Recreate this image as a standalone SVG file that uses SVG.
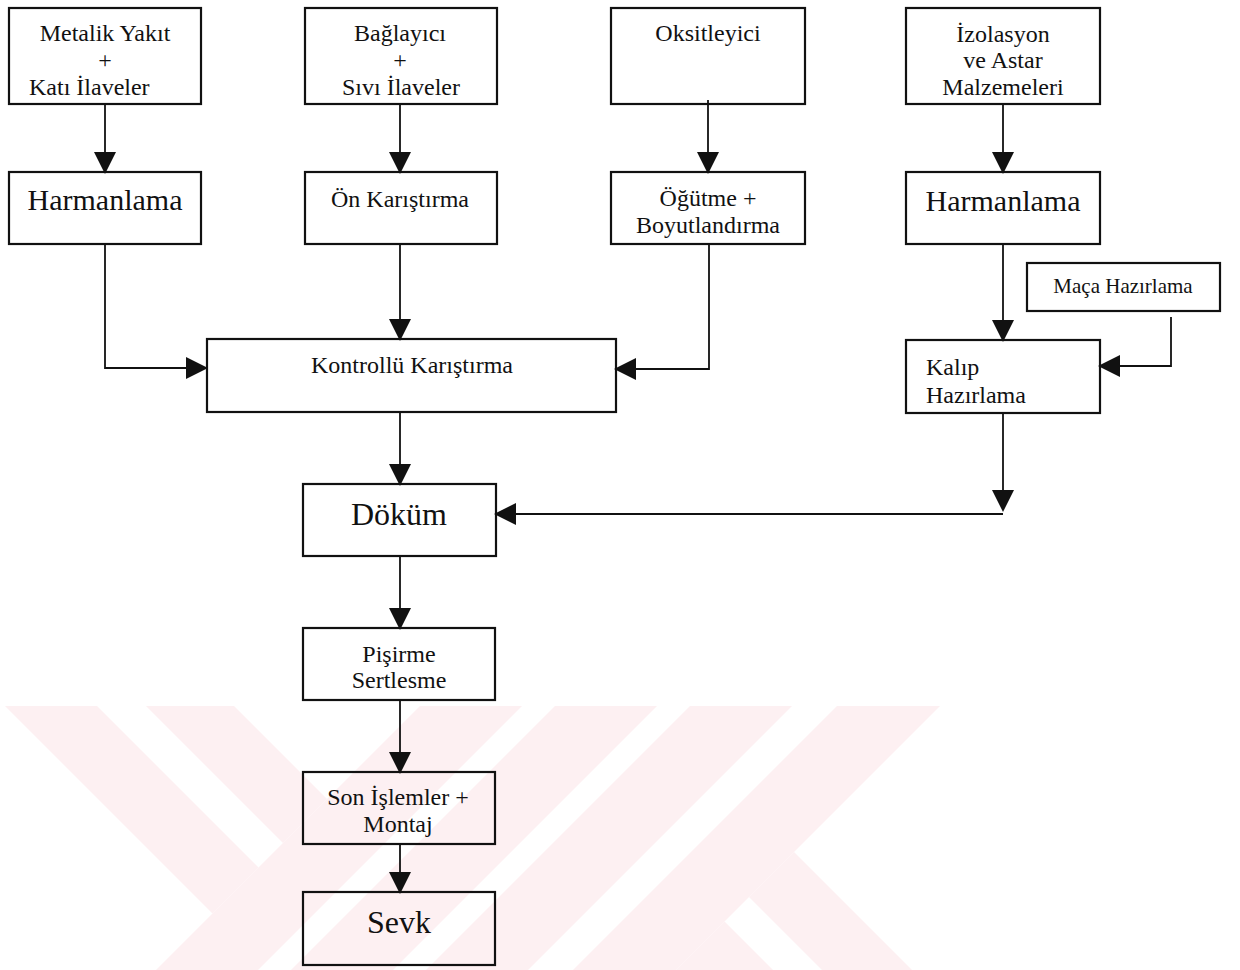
<svg xmlns="http://www.w3.org/2000/svg" width="1240" height="970" viewBox="0 0 1240 970">
<style>
  .box{fill:none;stroke:#111;stroke-width:2.2}
  .t{font-family:"Liberation Serif","Times New Roman",serif;fill:#111;font-size:24px;text-anchor:middle}
  .big{font-size:30px}
  .huge{font-size:32px}
  .sm{font-size:21px}
  .st{text-anchor:start}
  .wm{fill:#fdf0f2}
  .c{fill:none;stroke:#111;stroke-width:1.8}
</style>
<defs>
  <marker id="ah" markerUnits="userSpaceOnUse" markerWidth="22" markerHeight="22" refX="0" refY="10" orient="auto" viewBox="0 0 20 20">
    <path d="M0,0 L20,10 L0,20 Z" fill="#111"/>
  </marker>
</defs>
<rect width="1240" height="970" fill="#fff"/>
<g id="watermark">
  <polygon class="wm" points="5,706 97,706 258.5,867.5 212.5,913.5"/>
  <polygon class="wm" points="146,706 234,706 327,799 283,843"/>
  <polygon class="wm" points="420,706 522,706 258,970 156,970"/>
  <polygon class="wm" points="555,706 657,706 393,970 291,970"/>
  <polygon class="wm" points="690,706 792,706 528,970 426,970"/>
  <polygon class="wm" points="837,706 940,706 676,970 573,970"/>
  <polygon class="wm" points="724.5,921.5 773,970 676,970"/>
  <polygon class="wm" points="794,852 912,970 822,970 749,897"/>
</g>
<g id="connectors">
  <path class="c" d="M105,104 V152" marker-end="url(#ah)"/>
  <path class="c" d="M400,104 V152" marker-end="url(#ah)"/>
  <path class="c" d="M708,100 V152" marker-end="url(#ah)"/>
  <path class="c" d="M1003,104 V152" marker-end="url(#ah)"/>
  <path class="c" d="M105,244 V368 H186" marker-end="url(#ah)"/>
  <path class="c" d="M400,244 V319" marker-end="url(#ah)"/>
  <path class="c" d="M709,244 V369 H636" marker-end="url(#ah)"/>
  <path class="c" d="M1003,244 V320" marker-end="url(#ah)"/>
  <path class="c" d="M1171,317 V366 H1120" marker-end="url(#ah)"/>
  <path class="c" d="M400,412 V464" marker-end="url(#ah)"/>
  <path class="c" d="M1003,413 V490" marker-end="url(#ah)"/>
  <path class="c" d="M1003,514 H516" marker-end="url(#ah)"/>
  <path class="c" d="M400,556 V608" marker-end="url(#ah)"/>
  <path class="c" d="M400,700 V752" marker-end="url(#ah)"/>
  <path class="c" d="M400,844 V872" marker-end="url(#ah)"/>
</g>
<g id="n-metalik">
  <rect class="box" x="9" y="8" width="192" height="96"/>
  <text class="t" x="105" y="41">Metalik Yakıt</text>
  <text class="t" x="105" y="68">+</text>
  <text class="t st" x="29" y="95">Katı İlaveler</text>
</g>
<g id="n-baglayici">
  <rect class="box" x="305" y="8" width="192" height="96"/>
  <text class="t" x="400" y="41">Bağlayıcı</text>
  <text class="t" x="400" y="68">+</text>
  <text class="t" x="401" y="95">Sıvı İlaveler</text>
</g>
<g id="n-oksitleyici">
  <rect class="box" x="611" y="8" width="194" height="96"/>
  <text class="t" x="708" y="41">Oksitleyici</text>
</g>
<g id="n-izolasyon">
  <rect class="box" x="906" y="8" width="194" height="96"/>
  <text class="t" x="1003" y="42">İzolasyon</text>
  <text class="t" x="1003" y="68">ve Astar</text>
  <text class="t" x="1003" y="95">Malzemeleri</text>
</g>
<g id="n-harmanlama1">
  <rect class="box" x="9" y="172" width="192" height="72"/>
  <text class="t big" x="105" y="210">Harmanlama</text>
</g>
<g id="n-onkaristirma">
  <rect class="box" x="305" y="172" width="192" height="72"/>
  <text class="t" x="400" y="207">Ön Karıştırma</text>
</g>
<g id="n-ogutme">
  <rect class="box" x="611" y="172" width="194" height="72"/>
  <text class="t" x="708" y="206">Öğütme +</text>
  <text class="t" x="708" y="233">Boyutlandırma</text>
</g>
<g id="n-harmanlama2">
  <rect class="box" x="906" y="172" width="194" height="72"/>
  <text class="t big" x="1003" y="211">Harmanlama</text>
</g>
<g id="n-maca">
  <rect class="box" x="1027" y="263" width="193" height="48"/>
  <text class="t sm" x="1123" y="293">Maça Hazırlama</text>
</g>
<g id="n-kalip">
  <rect class="box" x="906" y="340" width="194" height="73"/>
  <text class="t st" x="926" y="375">Kalıp</text>
  <text class="t st" x="926" y="403">Hazırlama</text>
</g>
<g id="n-kontrollu">
  <rect class="box" x="207" y="339" width="409" height="73"/>
  <text class="t" x="412" y="373">Kontrollü Karıştırma</text>
</g>
<g id="n-dokum">
  <rect class="box" x="303" y="484" width="193" height="72"/>
  <text class="t huge" x="399" y="525">Döküm</text>
</g>
<g id="n-pisirme">
  <rect class="box" x="303" y="628" width="192" height="72"/>
  <text class="t" x="399" y="662">Pişirme</text>
  <text class="t" x="399" y="688">Sertlesme</text>
</g>
<g id="n-son">
  <rect class="box" x="303" y="772" width="192" height="72"/>
  <text class="t" x="398" y="805">Son İşlemler +</text>
  <text class="t" x="398" y="832">Montaj</text>
</g>
<g id="n-sevk">
  <rect class="box" x="303" y="892" width="192" height="73"/>
  <text class="t huge" x="399" y="933">Sevk</text>
</g>
</svg>
